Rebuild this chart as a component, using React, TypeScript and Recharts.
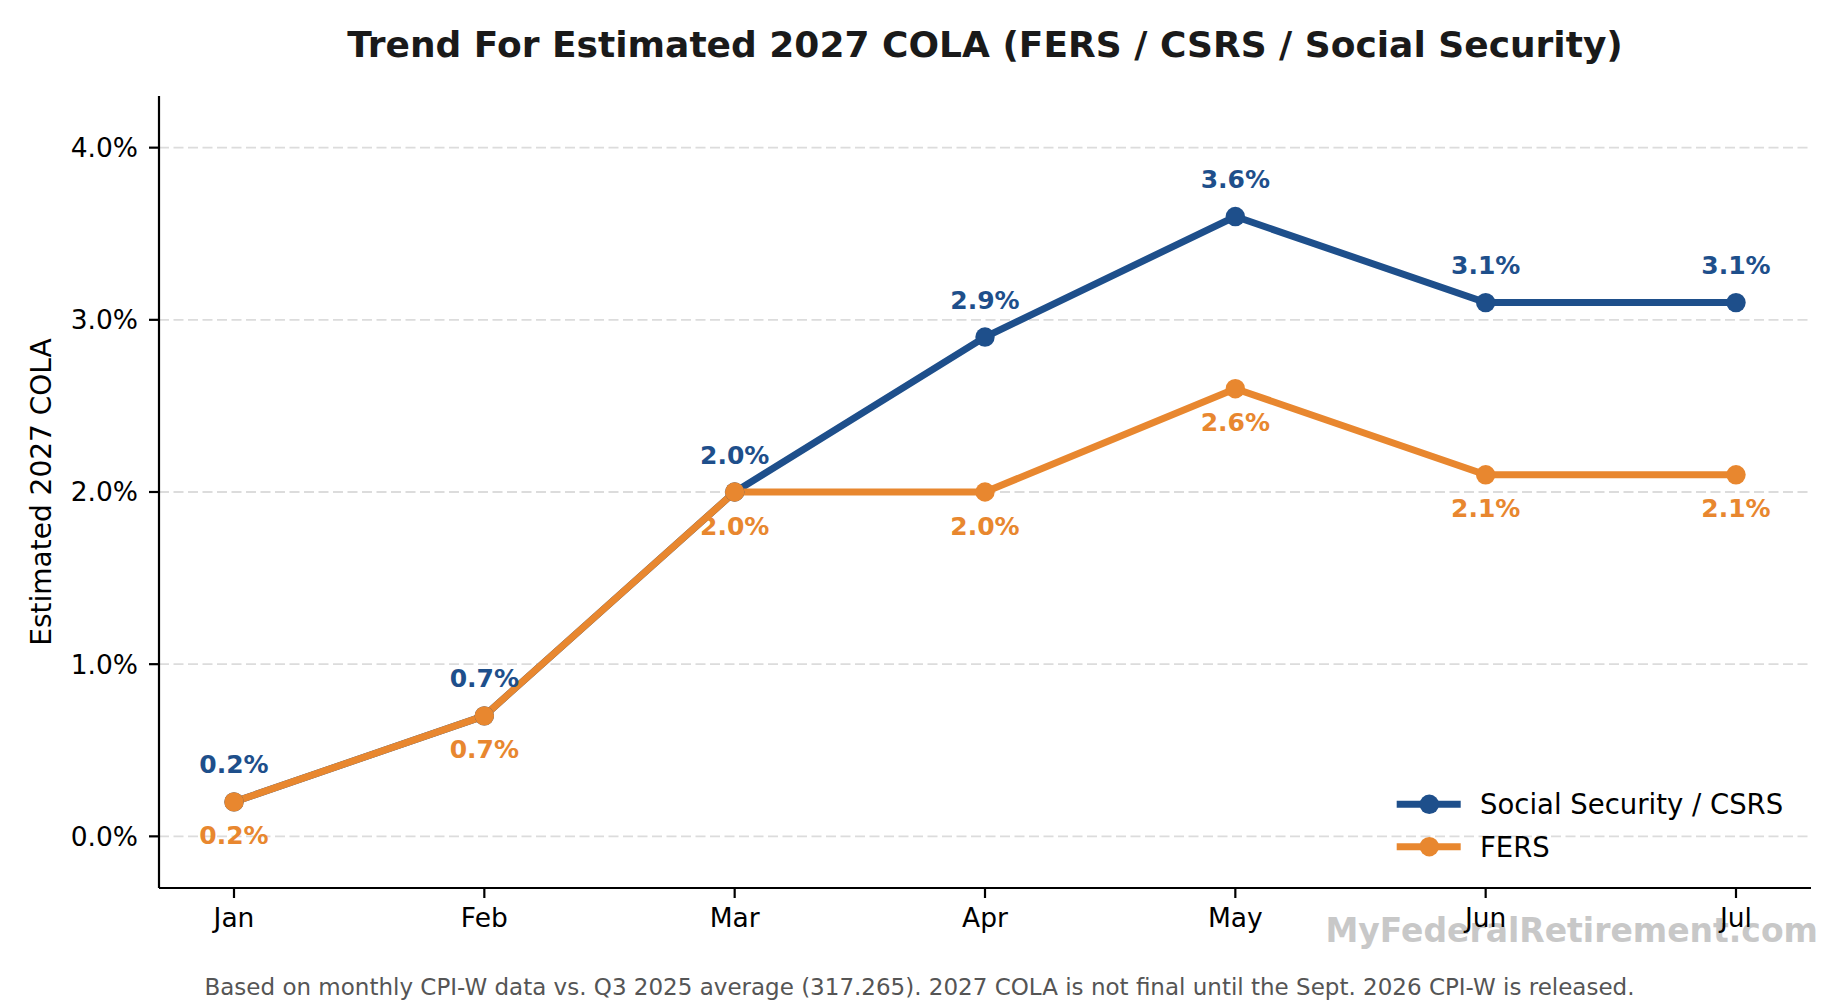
import React from 'react';
import { LineChart, Line, XAxis, YAxis, CartesianGrid, LabelList, Legend } from 'recharts';

const months = ['Jan', 'Feb', 'Mar', 'Apr', 'May', 'Jun', 'Jul'];
const socialSecurity = [0.2, 0.7, 2.0, 2.9, 3.6, 3.1, 3.1];
const fers = [0.2, 0.7, 2.0, 2.0, 2.6, 2.1, 2.1];
const yTicks = [0, 1, 2, 3, 4];
const seriesNames = ['Social Security / CSRS', 'FERS'];

const BLUE = '#1e4f8b';
const ORANGE = '#e8872f';
const FONT = '"DejaVu Sans", sans-serif';

const data = months.map((m, i) => ({ month: m, ss: socialSecurity[i], fers: fers[i] }));

const fmt = (v: number) => `${v.toFixed(1)}%`;

const makeLabel = (color: string, dy: number) => (props: any) => {
  const { x, y, value } = props;
  if (x == null || y == null) return null;
  return (
    <text
      x={x}
      y={y + dy}
      textAnchor="middle"
      fill={color}
      fontSize={25}
      fontWeight="bold"
      fontFamily={FONT}
    >
      {fmt(Number(value))}
    </text>
  );
};

const renderLegend = (props: any) => {
  const payload = (props && props.payload) || [];
  const colorOf: Record<string, string> = {};
  payload.forEach((p: any) => {
    colorOf[p.value] = p.color;
  });
  const fallback: Record<string, string> = { [seriesNames[0]]: BLUE, [seriesNames[1]]: ORANGE };
  const items = seriesNames.map((n) => ({ value: n, color: colorOf[n] || fallback[n] }));
  return (
    <svg width={430} height={100} style={{ overflow: 'visible' }}>
      {items.map((it: any, i: number) => {
        const cy = 24.3 + i * 42.4;
        return (
          <g key={i}>
            <line x1={6.7} x2={70.7} y1={cy} y2={cy} stroke={it.color} strokeWidth={7} />
            <circle cx={39.3} cy={cy} r={9.7} fill={it.color} />
            <text x={90} y={cy + 10} fontSize={27.5} fill="#000" fontFamily={FONT}>
              {it.value}
            </text>
          </g>
        );
      })}
    </svg>
  );
};

export default function App() {
  return (
    <div
      style={{
        position: 'absolute',
        left: 0,
        top: 0,
        width: 1839,
        height: 1000,
        background: '#ffffff',
        fontFamily: FONT,
      }}
    >
      <svg
        width={1839}
        height={1000}
        style={{ position: 'absolute', left: 0, top: 0 }}
      >
        <text
          x={1818}
          y={941.5}
          textAnchor="end"
          fontSize={33}
          fontWeight="bold"
          fill="#c8c8c8"
          fontFamily={FONT}
        >
          MyFederalRetirement.com
        </text>
      </svg>
      <div style={{ position: 'absolute', left: 0, top: 0 }}>
        <LineChart
          width={1839}
          height={1000}
          data={data}
          margin={{ top: 96, right: 28, bottom: 52, left: 59 }}
        >
          <CartesianGrid
            horizontal={true}
            vertical={false}
            horizontalValues={yTicks}
            syncWithTicks={false}
            stroke="#dcdcdc"
            strokeWidth={1.8}
            strokeDasharray="10 4.5"
          />
          <XAxis
            dataKey="month"
            padding={{ left: 75, right: 75 }}
            height={60}
            interval={0}
            tickSize={10}
            tickMargin={10}
            axisLine={{ stroke: '#000', strokeWidth: 2.2 }}
            tickLine={{ stroke: '#000', strokeWidth: 2.2 }}
            tick={{ fill: '#000', fontSize: 26.5, fontFamily: FONT }}
          />
          <YAxis
            type="number"
            domain={[-0.3, 4.3]}
            ticks={yTicks}
            allowDataOverflow={true}
            width={100}
            tickSize={10}
            tickMargin={11}
            tickFormatter={fmt}
            axisLine={{ stroke: '#000', strokeWidth: 2.2 }}
            tickLine={{ stroke: '#000', strokeWidth: 2.2 }}
            tick={{ fill: '#000', fontSize: 26.5, fontFamily: FONT }}
          />
          <Legend
            layout="vertical"
            align="center"
            verticalAlign="middle"
            wrapperStyle={{ position: 'absolute', left: 1390, top: 780, width: 430, height: 100 }}
            content={renderLegend}
          />
          <Line
            type="linear"
            dataKey="ss"
            name={seriesNames[0]}
            stroke={BLUE}
            strokeWidth={7}
            dot={{ r: 9.7, fill: BLUE, stroke: BLUE, strokeWidth: 0 }}
            activeDot={false}
            isAnimationActive={false}
          >
            <LabelList dataKey="ss" content={makeLabel(BLUE, -28.5)} />
          </Line>
          <Line
            type="linear"
            dataKey="fers"
            name={seriesNames[1]}
            stroke={ORANGE}
            strokeWidth={7}
            dot={{ r: 9.7, fill: ORANGE, stroke: ORANGE, strokeWidth: 0 }}
            activeDot={false}
            isAnimationActive={false}
          >
            <LabelList dataKey="fers" content={makeLabel(ORANGE, 42.5)} />
          </Line>
        </LineChart>
      </div>
      <svg
        width={1839}
        height={1000}
        style={{ position: 'absolute', left: 0, top: 0, pointerEvents: 'none' }}
      >
        <text
          x={985}
          y={57}
          textAnchor="middle"
          fontSize={36}
          fontWeight="bold"
          fill="#1a1a1a"
          fontFamily={FONT}
        >
          Trend For Estimated 2027 COLA (FERS / CSRS / Social Security)
        </text>
        <text
          x={50.7}
          y={492}
          transform="rotate(-90 50.7 492)"
          textAnchor="middle"
          fontSize={28}
          fill="#000"
          fontFamily={FONT}
        >
          Estimated 2027 COLA
        </text>
        <text
          x={919.5}
          y={995}
          textAnchor="middle"
          fontSize={23}
          fill="#555555"
          fontFamily={FONT}
        >
          Based on monthly CPI-W data vs. Q3 2025 average (317.265). 2027 COLA is not final until the Sept. 2026 CPI-W is released.
        </text>
      </svg>
    </div>
  );
}
